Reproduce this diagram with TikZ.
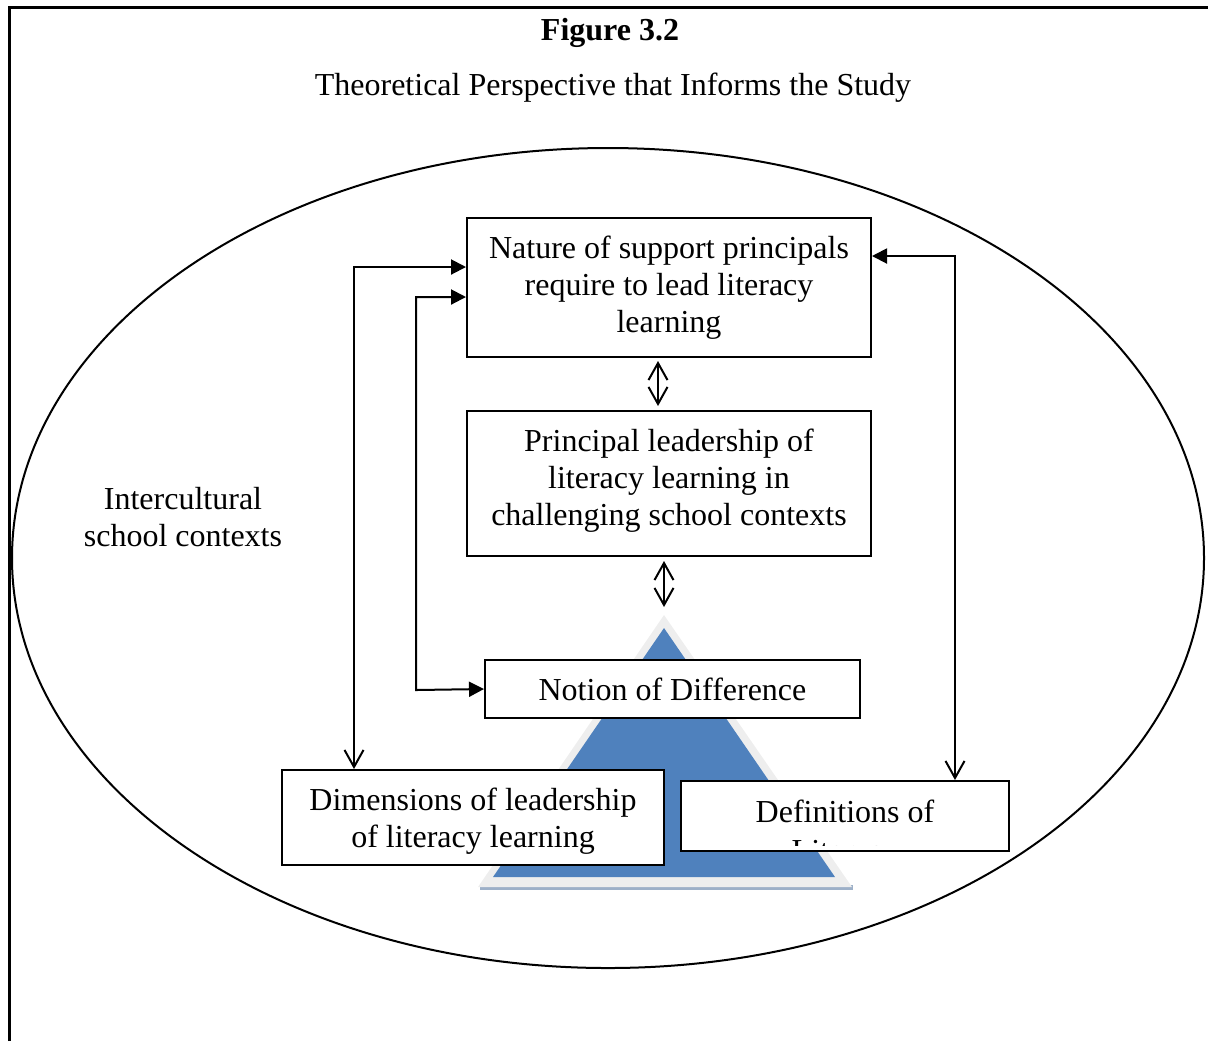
\documentclass[tikz,border=0pt]{standalone}
\usepackage{fontspec}
\setmainfont{Liberation Serif}
\usetikzlibrary{arrows.meta,calc}
\definecolor{triblue}{HTML}{4F81BD}
\definecolor{trihalo}{HTML}{EEEEEE}
\definecolor{trishade}{HTML}{9DB0C8}
\tikzset{
  filledtip/.tip={Triangle[length=7.5pt,width=7.5pt]},
  opentip/.tip={Straight Barb[length=8.5pt,width=9.5pt,line width=1pt]}
}
\begin{document}
\begin{tikzpicture}[x=0.5pt,y=-0.5pt,
  txt/.style={font=\fontsize{16}{18.5}\selectfont, align=center},
  box/.style={txt, draw, line width=1pt, fill=white, inner sep=0pt},
  link/.style={line width=1pt}]
\useasboundingbox (0,0) rectangle (1208,1041);

% page frame: top and left rules only
\draw[line width=1.5pt] (9,1041) -- (9,7) -- (1208,7);

% headings
\node[txt, font=\fontsize{16}{18.5}\selectfont\bfseries] (fig) at (610,33) {Figure 3.2};
\node[txt] (title) at (613,88) {Theoretical Perspective that Informs the Study};

% surrounding context
\draw[line width=1pt] (608,558) ellipse [x radius=596, y radius=410];
\node[txt] (context) at (183,517) {Intercultural\\school contexts};

% pyramid behind the lower boxes
\fill[trishade] (480,885) -- (853,885) -- (853,890) -- (480,890) -- cycle;
\fill[trihalo] (664,615) -- (852,887) -- (478,887) -- cycle;
\fill[triblue] (664,628) -- (835,877) -- (493,877) -- cycle;
\coordinate (apex) at (664,615);

% boxes
\node[box, minimum width=202pt, minimum height=69.5pt] (nature) at (669,287.5)
  {Nature of support principals\\require to lead literacy\\learning};
\node[box, minimum width=202pt, minimum height=72.5pt] (principal) at (669,483.5) {};
\node[txt] (principaltext) at (669,480.5)
  {Principal leadership of\\literacy learning in\\challenging school contexts};
\node[box, minimum width=187.5pt, minimum height=29pt] (notion) at (672.5,689)
  {Notion of Difference};
\node[box, minimum width=191pt, minimum height=47.5pt] (dims) at (473,817.5) {};
\node[txt] (dimstext) at (473,821.5) {Dimensions of leadership\\of literacy learning};
\node[box, minimum width=164pt, minimum height=35pt] (defs) at (845,816) {};
\begin{scope}
  \clip ([shift={(0.5pt,-0.5pt)}]defs.north west) rectangle ([shift={(-0.5pt,3.5pt)}]defs.south east);
  \node[txt, anchor=north] (defstext) at ([yshift=-6.5pt]defs.north) {Definitions of\\[1pt]Literacy};
\end{scope}

% connectors
\coordinate (l1) at (354,267);
\coordinate (l2) at (416,297);
\coordinate (l3) at (416,690);
\coordinate (r1) at (955,256);
\draw[link, {opentip}-{filledtip}] (l1 |- dims.north) -- (l1) -- (nature.west |- l1);
\draw[link, {filledtip}-{filledtip}] (nature.west |- l2) -- (l2) -- (l3) -- (notion.west);
\draw[link, {opentip}-{filledtip}] (r1 |- defs.north) -- (r1) -- (nature.east |- r1);
\draw[link, {opentip}-{opentip}] ([xshift=-5.5pt,yshift=-1.5pt]nature.south) -- ([xshift=-5.5pt,yshift=2pt]principal.north);
\draw[link, {opentip}-{opentip}] ([xshift=-2.5pt,yshift=-2pt]principal.south) -- ([yshift=4pt]apex);
\end{tikzpicture}
\end{document}
